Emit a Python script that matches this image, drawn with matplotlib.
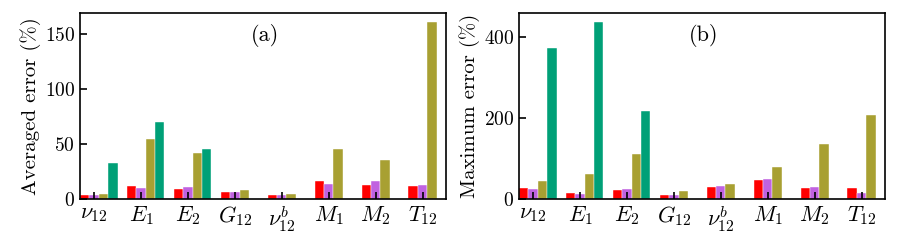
import matplotlib
matplotlib.use('Agg')
import matplotlib.pyplot as plt
import numpy as np

plt.rcParams['font.family'] = 'serif'
plt.rcParams['font.serif'] = ['cmr10']
plt.rcParams['mathtext.fontset'] = 'cm'
plt.rcParams['axes.formatter.use_mathtext'] = True

labels = [r'$\nu_{12}$', r'$E_1$', r'$E_2$', r'$G_{12}$', r'$\nu_{12}^b$',
          r'$M_1$', r'$M_2$', r'$T_{12}$']

# averaged error (%), panel (a)
avg_red = [3.9, 11.8, 9.1, 6.7, 3.6, 16.0, 13.0, 11.5]
avg_purple = [4.0, 9.7, 10.6, 6.7, 3.6, 14.0, 16.7, 13.0]
avg_olive = [4.2, 54.8, 41.8, 8.2, 4.8, 45.8, 35.8, 161.5]
avg_green = [32.4, 70.6, 45.8, np.nan, np.nan, np.nan, np.nan, np.nan]

# maximum error (%), panel (b)
max_red = [28.0, 14.8, 23.0, 10.7, 28.8, 47.0, 27.0, 28.0]
max_purple = [25.5, 13.0, 24.7, 10.7, 31.3, 48.6, 28.8, 14.8]
max_olive = [43.6, 61.7, 112.0, 19.0, 37.0, 80.0, 135.0, 206.6]
max_green = [372.0, 437.0, 216.5, np.nan, np.nan, np.nan, np.nan, np.nan]

colors = ['#ff0000', '#c062e0', '#a8a032', '#00a077']

fig = plt.figure(figsize=(8.98, 2.42), dpi=100)
ax1 = fig.add_axes([80/898, 1-199/242, 366/898, 186/242])
ax2 = fig.add_axes([519/898, 1-199/242, 366/898, 186/242])

x = np.arange(len(labels))
w = 0.2


def draw_panel(ax, series, ylabel, tag):
    for i, vals in enumerate(series):
        ax.bar(x + (i - 1) * w, vals, w, color=colors[i],
               edgecolor='white', linewidth=0.3)
    ax.set_xlim(-0.3, 7.5)
    ax.set_ylim(bottom=0)
    ax.margins(y=0.05)
    ax.set_xticks(x)
    ax.set_xticklabels(labels)
    ax.tick_params(direction='in', labelsize=14, length=5, width=1.2)
    ax.tick_params(axis='x', labelsize=16, pad=4)
    ax.set_ylabel(ylabel, fontsize=15, labelpad=3)
    for s in ax.spines.values():
        s.set_linewidth(1.2)
    ax.text(0.505, 0.88, tag, transform=ax.transAxes, fontsize=16,
            ha='center', va='center')


draw_panel(ax1, [avg_red, avg_purple, avg_olive, avg_green],
           r'Averaged error (%)', '(a)')
draw_panel(ax2, [max_red, max_purple, max_olive, max_green],
           r'Maximum error (%)', '(b)')
ax1.set_yticks([0, 50, 100, 150])
ax2.set_yticks([0, 200, 400])

fig.savefig('out.png', dpi=100)
